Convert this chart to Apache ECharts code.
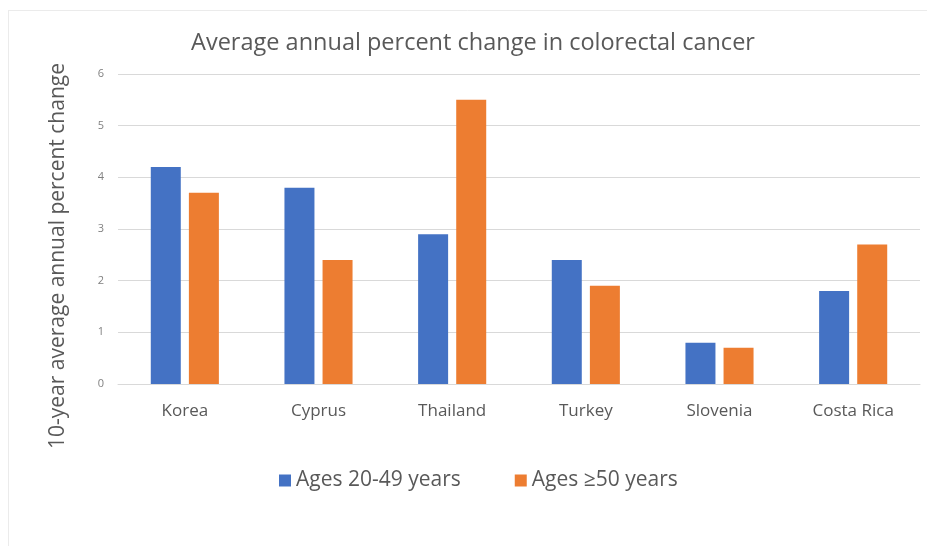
<!DOCTYPE html>
<html>
<head>
<meta charset="utf-8">
<script src="https://cdn.jsdelivr.net/npm/echarts@6/dist/echarts.min.js"></script>
<style>
html,body{margin:0;padding:0;background:#fff;}
#chart{width:927px;height:546px;}
</style>
</head>
<body>
<div id="chart"></div>
<script>
var categories = ["Korea", "Cyprus", "Thailand", "Turkey", "Slovenia", "Costa Rica"];
var seriesNames = ["Ages 20-49 years", "Ages \u226550 years"];
var young = [4.2, 3.8, 2.9, 2.4, 0.8, 1.8];
var old = [3.7, 2.4, 5.5, 1.9, 0.7, 2.7];
var yTicks = [0, 1, 2, 3, 4, 5, 6];

var chart = echarts.init(document.getElementById('chart'), null, {renderer: 'canvas'});
var font = '"Open Sans", "Noto Sans", sans-serif';
chart.setOption({
  backgroundColor: '#ffffff',
  animation: false,
  title: {
    text: 'Average annual percent change in colorectal cancer',
    left: 468, top: 26, textAlign: 'center',
    textStyle: {fontFamily: font, fontSize: 23.5, fontWeight: 'normal', color: '#595959'}
  },
  graphic: [
    {type: 'line', shape: {x1: 8, y1: 10.5, x2: 927, y2: 10.5}, style: {stroke: '#ebebeb', lineWidth: 1}, silent: true},
    {type: 'line', shape: {x1: 8.5, y1: 10, x2: 8.5, y2: 546}, style: {stroke: '#ebebeb', lineWidth: 1}, silent: true}
  ],
  legend: {
    data: seriesNames,
    left: 274, top: 465,
    itemWidth: 12, itemHeight: 12, itemGap: 54,
    icon: 'rect',
    textStyle: {fontFamily: font, fontSize: 21, color: '#595959'}
  },
  grid: {left: 118, right: 7, top: 74, bottom: 162},
  xAxis: {
    type: 'category', data: categories,
    axisLine: {show: true, lineStyle: {color: '#d9d9d9'}},
    axisTick: {show: false},
    axisLabel: {fontFamily: font, fontSize: 17, color: '#595959', margin: 19}
  },
  yAxis: {
    type: 'value', min: yTicks[0], max: yTicks[yTicks.length - 1], interval: 1,
    name: '10-year average annual percent change',
    nameLocation: 'middle', nameGap: 49,
    nameTextStyle: {fontFamily: font, fontSize: 21, color: '#595959', padding: [0, 54, 0, 0]},
    axisLine: {show: false}, axisTick: {show: false},
    axisLabel: {fontFamily: font, fontSize: 11, color: '#808080', margin: 14},
    splitLine: {lineStyle: {color: '#d9d9d9'}}
  },
  series: [
    {name: seriesNames[0], type: 'bar', data: young, barWidth: 30, barGap: '27%', itemStyle: {color: '#4472C4'}},
    {name: seriesNames[1], type: 'bar', data: old, barWidth: 30, barGap: '27%', itemStyle: {color: '#ED7D31'}}
  ]
});
</script>
</body>
</html>
